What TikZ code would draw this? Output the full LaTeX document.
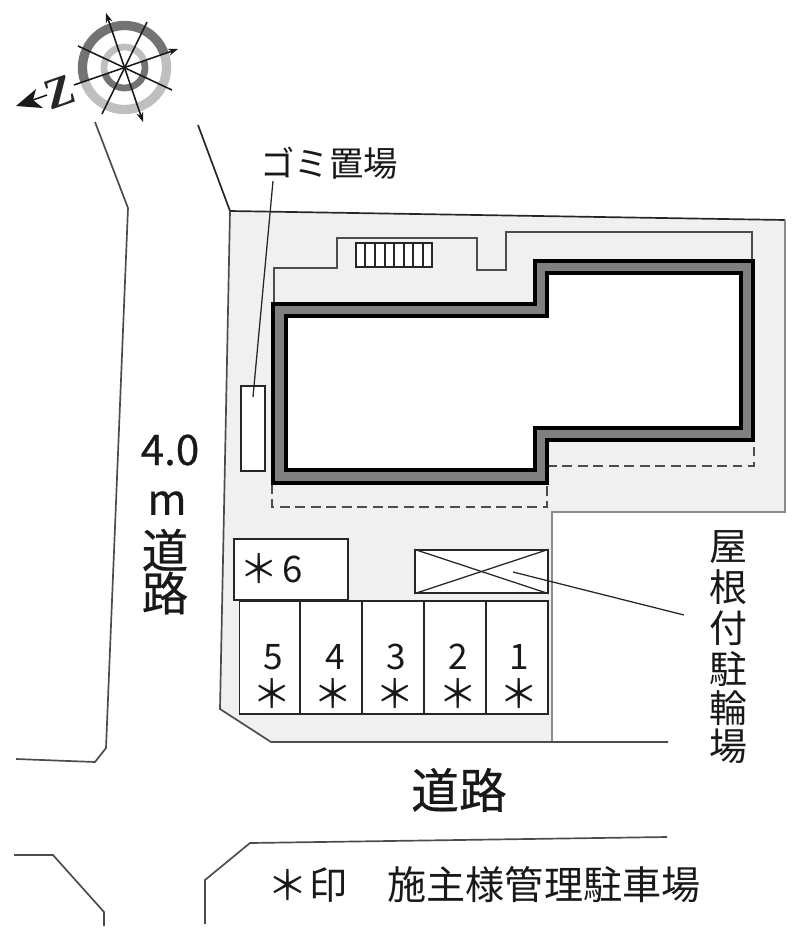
\documentclass[tikz,border=0pt]{standalone}
\usepackage{fontspec}
\setmainfont{Noto Sans CJK JP}
\newfontfamily\zfont{Liberation Serif}
\newfontfamily\heavyfont{Noto Sans CJK JP}[FakeBold=0.5]
\usepackage{tikz}
\usetikzlibrary{arrows.meta}

\tikzset{
	lotline/.style={draw=black!70, line width=1.2pt},
	wall/.style={draw=black, fill=black!50, line width=2.4pt, even odd rule},
	leader/.style={draw=black!85, line width=0.9pt},
	needle/.style={draw=black!90, line width=1.1pt},
	plainbox/.style={draw=black!85, fill=white, line width=1pt},
	sitetext/.style={inner sep=0pt, text=black!90},
}
\newcommand{\sz}[1]{\fontsize{#1}{#1}\selectfont}

\begin{document}
\begin{tikzpicture}[x=0.025cm,y=-0.025cm]
	\useasboundingbox (0,0) rectangle (800,940);

	% Draw lot
	\fill[black!6] (230,211) -- (785,220) -- (785,512) -- (552,512) -- (552,742) -- (271,742) -- (220,709) -- cycle;
	%Outline
	\draw[lotline, draw=black!85] (198,125) -- (230,211) -- (785,220);
	\draw[lotline, draw=black!45] (785,220) -- (785,512) -- (552,512) -- (552,742);
	\draw[lotline] (230,211) -- (220,709) -- (271,742) -- (668,742);

	%Roads
	\draw[lotline] (95,122) -- (128,208) -- (106,748) -- (95,762) -- (16,759);
	\draw[lotline] (14,855) -- (53,855) -- (104,912) -- (104,926);
	\draw[lotline] (205,924) -- (205,880) -- (250,843) -- (667,837);

	% Draw building
	\draw[lotline] (274,303) -- (274,268) -- (337,268) -- (337,238) -- (477,238) -- (477,270) -- (506,270) -- (506,232) -- (752,232) -- (752,261);
	\draw[lotline, dash pattern=on 7pt off 4pt] (272,484) -- (272,507) -- (547,507) -- (547,484);
	\draw[lotline, dash pattern=on 7pt off 4pt] (547,466) -- (754,466) -- (754,440);
	\fill[white] (286,316) -- (547,316) -- (547,273) -- (742,273) -- (742,428) -- (535,428) -- (535,470) -- (286,470) -- cycle;
	\draw[wall] (273,304) -- (535,304) -- (535,261) -- (753,261) -- (753,440) -- (547,440) -- (547,483) -- (273,483) -- cycle
		(286,316) -- (547,316) -- (547,273) -- (741,273) -- (741,428) -- (535,428) -- (535,470) -- (286,470) -- cycle;

	%Stairs
	\draw[plainbox] (356,243) rectangle (432,267);
	\foreach \x in {365,375,385,394,404,413,423}
		\draw[black!85, line width=0.8pt] (\x,243) -- (\x,267);

	% Draw boxes
	\node (trash) [plainbox, minimum width=24*0.025cm, minimum height=85*0.025cm] at (253,428.5) {};
	\node (slotsix) [plainbox, minimum width=114*0.025cm, minimum height=61*0.025cm] at (291,569.5) {};
	\node (bikes) [plainbox, minimum width=133*0.025cm, minimum height=43*0.025cm] at (481.5,571.5) {};
	\draw[leader] (bikes.north west) -- (bikes.south east);
	\draw[leader] (bikes.south west) -- (bikes.north east);

	%Parking slots
	\node (slotfive) [plainbox, minimum width=61*0.025cm, minimum height=113*0.025cm] at (270,657.5) {};
	\node (slotfour) [plainbox, minimum width=62*0.025cm, minimum height=113*0.025cm] at (331,657.5) {};
	\node (slotthree) [plainbox, minimum width=62*0.025cm, minimum height=113*0.025cm] at (393,657.5) {};
	\node (slottwo) [plainbox, minimum width=62*0.025cm, minimum height=113*0.025cm] at (455,657.5) {};
	\node (slotone) [plainbox, minimum width=62*0.025cm, minimum height=113*0.025cm] at (517,657.5) {};
	\foreach \n/\x/\y in {5/273/272,4/335/333,3/396/395,2/458/458,1/519/519} {
		\node (num\n) [sitetext, font=\sz{25}] at (\x,657) {\n};
		\node (star\n) [sitetext, font=\sz{28}] at (\y,694) {＊};
	}

	% Labels
	\node (lblstarsix) [sitetext, font=\sz{28}] at (259,569) {＊};
	\node (lblsix) [sitetext, font=\sz{26}] at (293,569) {6};
	\node (lbltrash) [sitetext, font=\sz{24.5}] at (329,163) {ゴミ置場};
	\node (lblwidth) [sitetext, font=\heavyfont\sz{30}] at (170,450) {4.0};
	\node (lblm) [sitetext, font=\heavyfont\sz{30}] at (167,503) {m};
	\node (lblroadA) [sitetext, font=\heavyfont\sz{33}] at (165,550) {道};
	\node (lblroadB) [sitetext, font=\heavyfont\sz{33}] at (165,593) {路};
	\node (lblroad) [sitetext, font=\heavyfont\sz{34}] at (459,790) {道路};
	\foreach \t/\y/\c in {屋/547/a,根/587/b,付/628/c,駐/669/d,輪/708/e,場/746/f}
		\node (lblbike\c) [sitetext, font=\sz{27}] at (728,\y) {\t};
	\node (lblstar) [sitetext, font=\sz{29}] at (288,885) {＊};
	\node (lblmark) [sitetext, font=\sz{27}] at (328,885) {印};
	\node (lblnote) [sitetext, font=\sz{27.8}] at (544,885) {施主様管理駐車場};

	%Leaders
	\coordinate (trashend) at (253,397);
	\coordinate (bikeend) at (513,572);
	\draw[leader] (273,181) -- (trashend);
	\draw[leader] (684,615) -- (bikeend);

	% Draw compass
	\coordinate (hub) at (124.5,67.5);
	\draw[black!55, line width=6.6pt] (hub) ++(19:1.05cm) arc[start angle=19, end angle=199, radius=1.05cm];
	\draw[black!25, line width=6.6pt] (hub) ++(199:1.05cm) arc[start angle=199, end angle=379, radius=1.05cm];
	\draw[black!25, line width=4.8pt] (hub) ++(19:0.5125cm) arc[start angle=19, end angle=199, radius=0.5125cm];
	\draw[black!55, line width=4.8pt] (hub) ++(199:0.5125cm) arc[start angle=199, end angle=379, radius=0.5125cm];
	\coordinate (needleA) at (74,85);
	\coordinate (needleB) at (178,49);
	\coordinate (needleC) at (78,46);
	\coordinate (needleD) at (172,90);
	\coordinate (needleE) at (147,22);
	\coordinate (needleF) at (102,114);
	\coordinate (needleG) at (106,13);
	\coordinate (needleH) at (143,122);
	\draw[needle, -{Stealth[length=7pt,width=5pt]}] (needleA) -- (needleB);
	\draw[needle] (needleC) -- (needleD);
	\draw[needle] (needleE) -- (needleF);
	\draw[needle, {Stealth[length=7pt,width=5pt]}-{Stealth[length=7pt,width=5pt]}] (needleG) -- (needleH);

	%North arrow
	\coordinate (tip) at (16,106);
	\coordinate (tail) at (47,95);
	\fill[black!90] (tip) -- (36,89) -- (33,100) -- (43,108) -- cycle;
	\draw[needle] (tail) -- (33,100);
	\node (north) [sitetext, font=\zfont\bfseries\sz{31}, rotate=19, text=black!85] at (60,92) {Z};
\end{tikzpicture}
\end{document}
